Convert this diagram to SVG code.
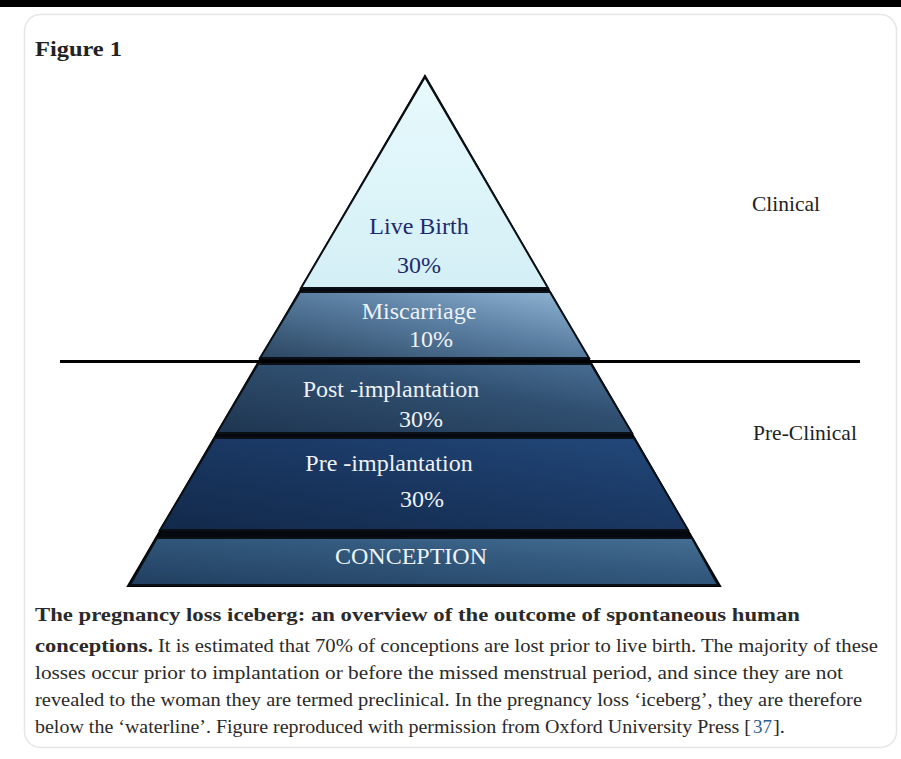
<svg xmlns="http://www.w3.org/2000/svg" width="901" height="759" viewBox="0 0 901 759">
<defs>
<style>
.serif{font-family:"Liberation Serif","DejaVu Serif",serif;}
.lbl{font-family:"Liberation Serif","DejaVu Serif",serif;font-size:24px;text-anchor:middle;fill:#eef2f6;}
.dark{fill:#1e2a6e;}
.side{font-family:"Liberation Serif","DejaVu Serif",serif;font-size:21.5px;fill:#222;}
.cap{font-family:"Liberation Serif","DejaVu Serif",serif;font-size:19px;fill:#2a2a2a;}
.band{stroke:#0b0f16;stroke-width:2;stroke-linejoin:miter;}
</style>
<linearGradient id="gLive" x1="0" y1="0" x2="0" y2="1">
<stop offset="0" stop-color="#e8fafd"/><stop offset="1" stop-color="#d3eff5"/>
</linearGradient>
<linearGradient id="gMis" x1="0" y1="1" x2="1" y2="0">
<stop offset="0" stop-color="#2b4662"/><stop offset="0.55" stop-color="#5a7fa2"/><stop offset="1" stop-color="#94b7d6"/>
</linearGradient>
<linearGradient id="gPost" x1="0" y1="1" x2="1" y2="0">
<stop offset="0" stop-color="#1e3550"/><stop offset="0.6" stop-color="#304f70"/><stop offset="1" stop-color="#4a7196"/>
</linearGradient>
<linearGradient id="gPre" x1="0" y1="1" x2="1" y2="0">
<stop offset="0" stop-color="#12294a"/><stop offset="0.6" stop-color="#1b3a66"/><stop offset="1" stop-color="#234a7c"/>
</linearGradient>
<linearGradient id="gCon" x1="0" y1="1" x2="1" y2="0">
<stop offset="0" stop-color="#213f60"/><stop offset="0.6" stop-color="#335a7e"/><stop offset="1" stop-color="#466f94"/>
</linearGradient>
</defs>
<rect x="0" y="0" width="901" height="759" fill="#ffffff"/>
<rect x="0" y="0" width="901" height="7" fill="#000000"/>
<rect x="24.5" y="14.5" width="872" height="733" rx="16" fill="#ffffff" stroke="#e6e6e6" stroke-width="1.5"/>
<text class="serif" x="35" y="56" font-size="21" font-weight="bold" fill="#222" textLength="87" lengthAdjust="spacingAndGlyphs">Figure 1</text>

<g id="pyramid">
<polygon points="425,76 128,586 720,586" fill="#05080e" stroke="#000" stroke-width="2"/>
</g>
<g id="live-birth">
<polygon class="band" points="425,77 301,288 548,288" fill="url(#gLive)"/>
<text x="419" y="234" class="lbl dark">Live Birth</text>
<text x="419" y="273" class="lbl dark">30%</text>
</g>
<g id="miscarriage">
<polygon class="band" points="300,292 550,292 589,358 260,358" fill="url(#gMis)"/>
<text x="419" y="319" class="lbl">Miscarriage</text>
<text x="431" y="347" class="lbl">10%</text>
</g>
<g id="post-implantation">
<polygon class="band" points="258,364 591,364 632,433 217,433" fill="url(#gPost)"/>
<text x="391" y="397" class="lbl">Post -implantation</text>
<text x="421" y="427" class="lbl">30%</text>
</g>
<g id="pre-implantation">
<polygon class="band" points="215,438 634,438 688,530 160,530" fill="url(#gPre)"/>
<text x="389" y="471" class="lbl">Pre -implantation</text>
<text x="422" y="507" class="lbl">30%</text>
</g>
<g id="conception">
<polygon class="band" points="157,538 692,538 718,585 130,585" fill="url(#gCon)"/>
<text x="411" y="564" class="lbl">CONCEPTION</text>
</g>

<g id="connectors">
<line x1="60" y1="361.5" x2="860" y2="361.5" stroke="#000" stroke-width="3"/>
</g>
<g id="labels">
<text class="side" x="752" y="211">Clinical</text>
<text class="side" x="753" y="440">Pre-Clinical</text>
</g>

<g id="caption">
<text class="cap" x="35" y="621" font-weight="bold" textLength="765" lengthAdjust="spacingAndGlyphs">The pregnancy loss iceberg: an overview of the outcome of spontaneous human</text>
<text class="cap" x="35" y="652" font-weight="bold" textLength="118" lengthAdjust="spacingAndGlyphs">conceptions.</text>
<text class="cap" x="158" y="652" textLength="720" lengthAdjust="spacingAndGlyphs">It is estimated that 70% of conceptions are lost prior to live birth. The majority of these</text>
<text class="cap" x="35" y="679" textLength="808" lengthAdjust="spacingAndGlyphs">losses occur prior to implantation or before the missed menstrual period, and since they are not</text>
<text class="cap" x="35" y="706" textLength="827" lengthAdjust="spacingAndGlyphs">revealed to the woman they are termed preclinical. In the pregnancy loss ‘iceberg’, they are therefore</text>
<text class="cap" x="35" y="733" textLength="716" lengthAdjust="spacingAndGlyphs">below the ‘waterline’. Figure reproduced with permission from Oxford University Press [</text>
<text class="cap" x="753" y="733" fill="#2b5d8c" style="fill:#2b5d8c" textLength="19" lengthAdjust="spacingAndGlyphs">37</text>
<text class="cap" x="773" y="733" textLength="12" lengthAdjust="spacingAndGlyphs">].</text>
</g>
</svg>
